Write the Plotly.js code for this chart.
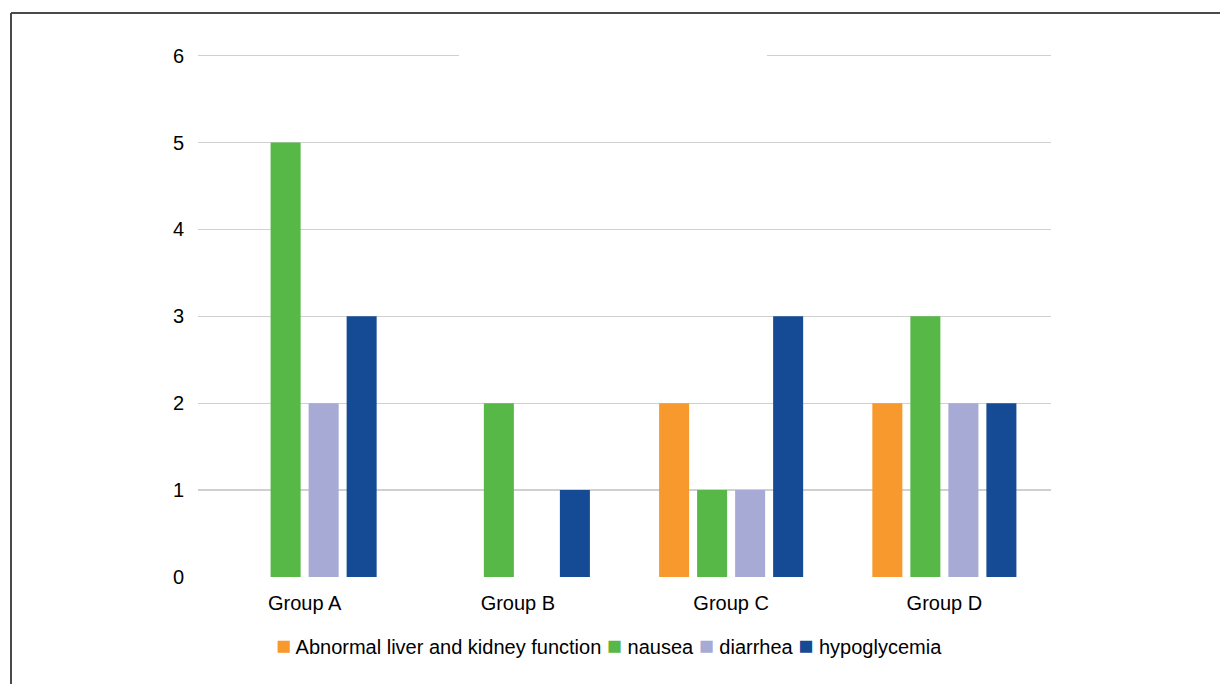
<!DOCTYPE html>
<html>
<head>
<meta charset="utf-8">
<script src="https://cdn.plot.ly/plotly-3.0.1.min.js"></script>
<style>
  html, body { margin: 0; padding: 0; background: #ffffff; }
  #chart { width: 1220px; height: 684px; }
</style>
</head>
<body>
<div id="chart"></div>
<script>
// Adverse events per group
const groups = ["Group A", "Group B", "Group C", "Group D"];
const seriesNames = ["Abnormal liver and kidney function", "nausea", "diarrhea", "hypoglycemia"];
const liverKidney = [0, 0, 2, 2];
const nausea = [5, 2, 1, 3];
const diarrhea = [2, 0, 1, 2];
const hypoglycemia = [3, 1, 3, 2];
const yTicks = [0, 1, 2, 3, 4, 5, 6];

const seriesValues = [liverKidney, nausea, diarrhea, hypoglycemia];
const seriesColors = ["#F7992C", "#57B847", "#A6AAD4", "#154B95"];

const W = 1220, H = 684;
const margin = { l: 198, r: 169, t: 54, b: 107 };
const plotW = W - margin.l - margin.r;
const plotH = H - margin.t - margin.b;
// page pixel -> paper coordinate helpers for the frame and decorations
const px = x => (x - margin.l) / plotW;
const py = y => (H - margin.b - y) / plotH;

const traces = seriesNames.map((name, i) => ({
  type: "bar",
  name: name,
  x: groups,
  y: seriesValues[i],
  marker: { color: seriesColors[i] },
  hoverinfo: "x+y+name"
}));

// compact legend row: colored squares followed by the series names
const legendText = seriesNames
  .map((n, i) => `<span style="color:${seriesColors[i]};font-size:25px">■</span> ${n}`)
  .join(" ");

const frameColor = "#4a4a4a";
const layout = {
  width: W,
  height: H,
  margin: margin,
  paper_bgcolor: "#ffffff",
  plot_bgcolor: "#ffffff",
  barmode: "group",
  bargap: 0.287,
  bargroupgap: 0.21,
  showlegend: false,
  font: { family: "Liberation Sans, Arial, sans-serif", size: 20, color: "#000000" },
  xaxis: {
    type: "category",
    showgrid: false,
    zeroline: false,
    showline: false,
    ticks: "",
    ticklabelstandoff: 12,
    tickfont: { size: 20, color: "#000000" }
  },
  yaxis: {
    // headroom above 6 keeps the top gridline inside the plot area
    range: [0, 6.02],
    tickvals: yTicks,
    showgrid: true,
    gridcolor: "#d0d0d0",
    gridwidth: 1.5,
    zeroline: false,
    showline: false,
    ticks: "",
    ticklabelstandoff: 13,
    tickfont: { size: 20, color: "#000000" }
  },
  annotations: [{
    xref: "paper", yref: "paper",
    x: px(609), y: py(645),
    xanchor: "center", yanchor: "middle",
    showarrow: false,
    text: legendText,
    font: { size: 20, color: "#000000" }
  }],
  shapes: [
    // frame: top and left rules
    { type: "line", xref: "paper", yref: "paper", x0: px(11), x1: px(1220), y0: py(13), y1: py(13),
      line: { color: frameColor, width: 2 }, layer: "above" },
    { type: "line", xref: "paper", yref: "paper", x0: px(11), x1: px(11), y0: py(13), y1: py(684),
      line: { color: frameColor, width: 2 }, layer: "above" },
    // blank band interrupting the top gridline
    { type: "rect", xref: "paper", yref: "paper", x0: px(459), x1: px(767), y0: py(62), y1: py(28),
      fillcolor: "#ffffff", line: { width: 0 }, layer: "above" }
  ]
};

Plotly.newPlot("chart", traces, layout, { displayModeBar: false, staticPlot: true });
</script>
</body>
</html>
